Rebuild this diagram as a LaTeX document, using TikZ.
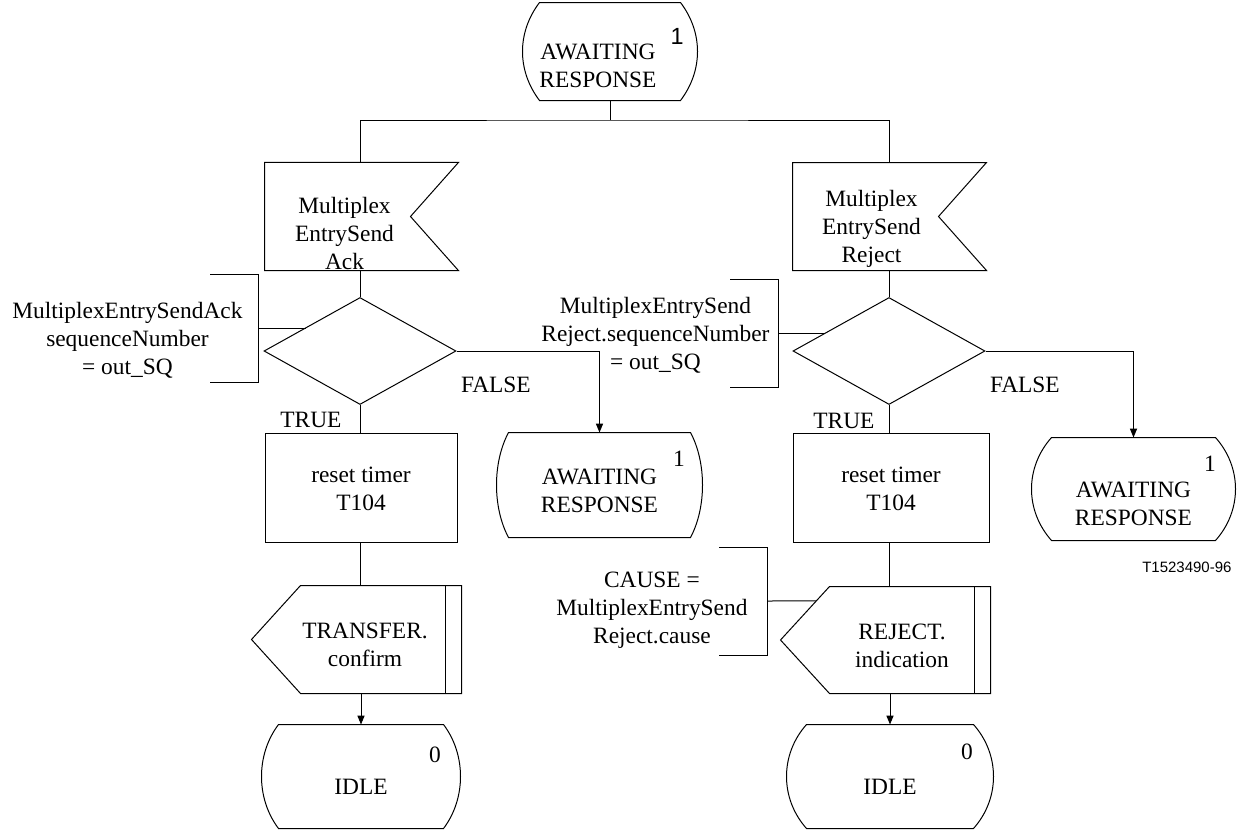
\documentclass[tikz,border=0pt]{standalone}
\usepackage{fontspec}
\setmainfont{Liberation Serif}
\setsansfont{Liberation Sans}
\usetikzlibrary{arrows.meta,calc,shapes.geometric}

\newcommand{\topstrut}[1]{\rule{0pt}{#1}}
\newcommand{\sdlstate}[2]{%
  \draw ($(#1.north west)+(#2,0)$) -- ($(#1.north east)+(-#2,0)$)
    .. controls ($(#1.north east)+(#2/3,30)$) and ($(#1.south east)+(#2/3,-30)$) .. ($(#1.south east)+(-#2,0)$)
    -- ($(#1.south west)+(#2,0)$)
    .. controls ($(#1.south west)+(-#2/3,-30)$) and ($(#1.north west)+(-#2/3,30)$) .. cycle;}
\newcommand{\sdlinput}[2]{%
  \draw ($(#1.north east)+(48,0)$) -- ($(#1.north west)+(-#2,0)$) -- ($(#1.south west)+(-#2,0)$)
    -- ($(#1.south east)+(48,0)$) -- (#1.east) -- cycle;}
\newcommand{\sdloutput}[2]{%
  \draw ($(#1.north west)+(#2,0)$) -- ($(#1.north east)+(16,0)$) -- ($(#1.south east)+(16,0)$)
    -- ($(#1.south west)+(#2,0)$) -- ($(#1.west)+(#2-49,0)$) -- cycle;
  \draw (#1.north east) -- (#1.south east);}
\newcommand{\notebracket}[1]{%
  \draw ($(#1.north east)+(-48,0)$) -- (#1.north east) -- (#1.south east) -- ++(-48,0);}

\tikzset{
  sdltext/.style={inner sep=0pt, align=center, font=\fontsize{11.7}{14}\selectfont},
  decision/.style={diamond, draw, inner sep=0pt, minimum width=96pt, minimum height=53.5pt},
  sdlnote/.style={sdltext, inner ysep=0pt, minimum height=53.5pt, anchor=east},
  stnum/.style={inner sep=0pt, anchor=base west, font=\fontsize{11.7}{14}\selectfont},
  flow/.style={-{Triangle[length=4.5pt,width=3.6pt]}}
}

\begin{document}
\begin{tikzpicture}[x=0.5pt,y=-0.5pt,line width=0.5pt]
  \useasboundingbox (0,0) rectangle (1243,830);

  % start state
  \node[sdltext, minimum width=87pt, minimum height=48.5pt] (s0) at (610,51.5)
    {\topstrut{22.5pt}AWAITING\rlap{\raisebox{7.5pt}{\hspace{7.5pt}\sffamily 1}}\hspace*{12pt}\\RESPONSE\hspace*{12pt}};
  \sdlstate{s0}{17}

  % received signals
  \node[sdltext, minimum width=65.5pt, minimum height=53.5pt] (in1) at (344.5,216.5)
    {\topstrut{25.5pt}Multiplex\\EntrySend\\Ack};
  \sdlinput{in1}{14}
  \node[sdltext, minimum width=66.5pt, minimum height=53.5pt] (in2) at (871.5,216.5)
    {\topstrut{20pt}Multiplex\\EntrySend\\Reject};
  \sdlinput{in2}{12}

  % decisions and their comments
  \node[decision] (d1) at (360,351) {};
  \node[decision] (d2) at (889,351) {};
  \node[sdlnote, inner xsep=7.5pt] (c1) at (258,328.5)
    {\topstrut{19.5pt}MultiplexEntrySendAck\\sequenceNumber\\= out\_SQ};
  \notebracket{c1}
  \node[sdlnote, inner xsep=4pt] (c2) at (778,333.5)
    {\topstrut{9.5pt}MultiplexEntrySend\\Reject.sequenceNumber\\= out\_SQ};
  \notebracket{c2}

  \node[sdltext, anchor=base east] (t1) at ($(d1.south)+(-18,22)$) {TRUE};
  \node[sdltext, anchor=base west] (f1) at ($(d1.east)+(4,41)$) {FALSE};
  \node[sdltext, anchor=base east] (t2) at ($(d2.south)+(-14,23)$) {TRUE};
  \node[sdltext, anchor=base west] (f2) at ($(d2.east)+(4,41)$) {FALSE};

  % back to waiting
  \node[sdltext, minimum width=102.5pt, minimum height=52pt] (s1) at (599.5,485)
    {\topstrut{14pt}AWAITING\\RESPONSE};
  \sdlstate{s1}{12}
  \node[stnum] (s1n) at ($(s1.north east)+(-30,34)$) {1};
  \node[sdltext, minimum width=101.5pt, minimum height=51pt] (s2) at (1133.5,489)
    {\topstrut{23pt}AWAITING\\RESPONSE};
  \sdlstate{s2}{20}
  \node[stnum] (s2n) at ($(s2.north east)+(-32,34)$) {1};

  % tasks
  \node[sdltext, draw, minimum width=96pt, minimum height=54.5pt] (r1) at (361,487.5)
    {\topstrut{9.5pt}reset timer\\T104};
  \node[sdltext, draw, minimum width=98pt, minimum height=54.5pt] (r2) at (891,487.5)
    {\topstrut{9.5pt}reset timer\\T104};

  % sent signals
  \node[sdltext, minimum width=80pt, minimum height=53.5pt] (o1) at (365,639.5)
    {\topstrut{13.5pt}TRANSFER.\\confirm};
  \sdloutput{o1}{16}
  \node[sdltext, minimum width=72pt, minimum height=53pt] (o2) at (902,640)
    {\topstrut{14pt}REJECT.\\indication};
  \sdloutput{o2}{0}
  \node[sdlnote, inner xsep=9.5pt] (c3) at (767,601)
    {\topstrut{16.5pt}CAUSE =\\MultiplexEntrySend\\Reject.cause};
  \notebracket{c3}

  % end states
  \node[sdltext, minimum width=99pt, minimum height=51.5pt] (idle1) at (361,776.5)
    {\topstrut{18.5pt}IDLE};
  \sdlstate{idle1}{17}
  \node[stnum] (idle1n) at ($(idle1.north east)+(-32,38)$) {0};
  \node[sdltext, minimum width=103pt, minimum height=51.5pt] (idle2) at (890,776.5)
    {\topstrut{18.5pt}IDLE};
  \sdlstate{idle2}{20}
  \node[stnum] (idle2n) at ($(idle2.north east)+(-33,35)$) {0};

  \node[inner sep=0pt, anchor=base east, font=\sffamily\fontsize{7.5}{9}\selectfont] (figid)
    at (1232,572) {T1523490-96};

  % connectors
  \coordinate (br) at (610,120);
  \draw (s0.south) -- (br);
  \draw (d1.north |- in1.north) |- (br) -| (d2.north |- in2.north);
  \draw (d1.north |- in1.south) -- (d1.north);
  \draw (d2.north |- in2.south) -- (d2.north);
  \draw[flow] (d1.east) -| (s1.north);
  \draw[flow] (d2.east) -| (s2.north);
  \draw (d1.south) -- (d1.south |- r1.north);
  \draw (d2.south) -- (d2.south |- r2.north);
  \draw (r1.south -| d1.south) -- (d1.south |- o1.north);
  \draw (r2.south -| d2.south) -- (d2.south |- o2.north);
  \draw[flow] (idle1.north |- o1.south) -- (idle1.north);
  \draw[flow] (idle2.north |- o2.south) -- (idle2.north);
  \draw (c1.east) -- (c1.east -| d1.156);
  \draw (c2.east) -- (c2.east -| d2.164);
  \coordinate (o2tip) at ($(o2.west)+(-49,0)$);
  \draw (c3.east) -- ($(o2.north west)!0.27!(o2tip)$);
\end{tikzpicture}
\end{document}
